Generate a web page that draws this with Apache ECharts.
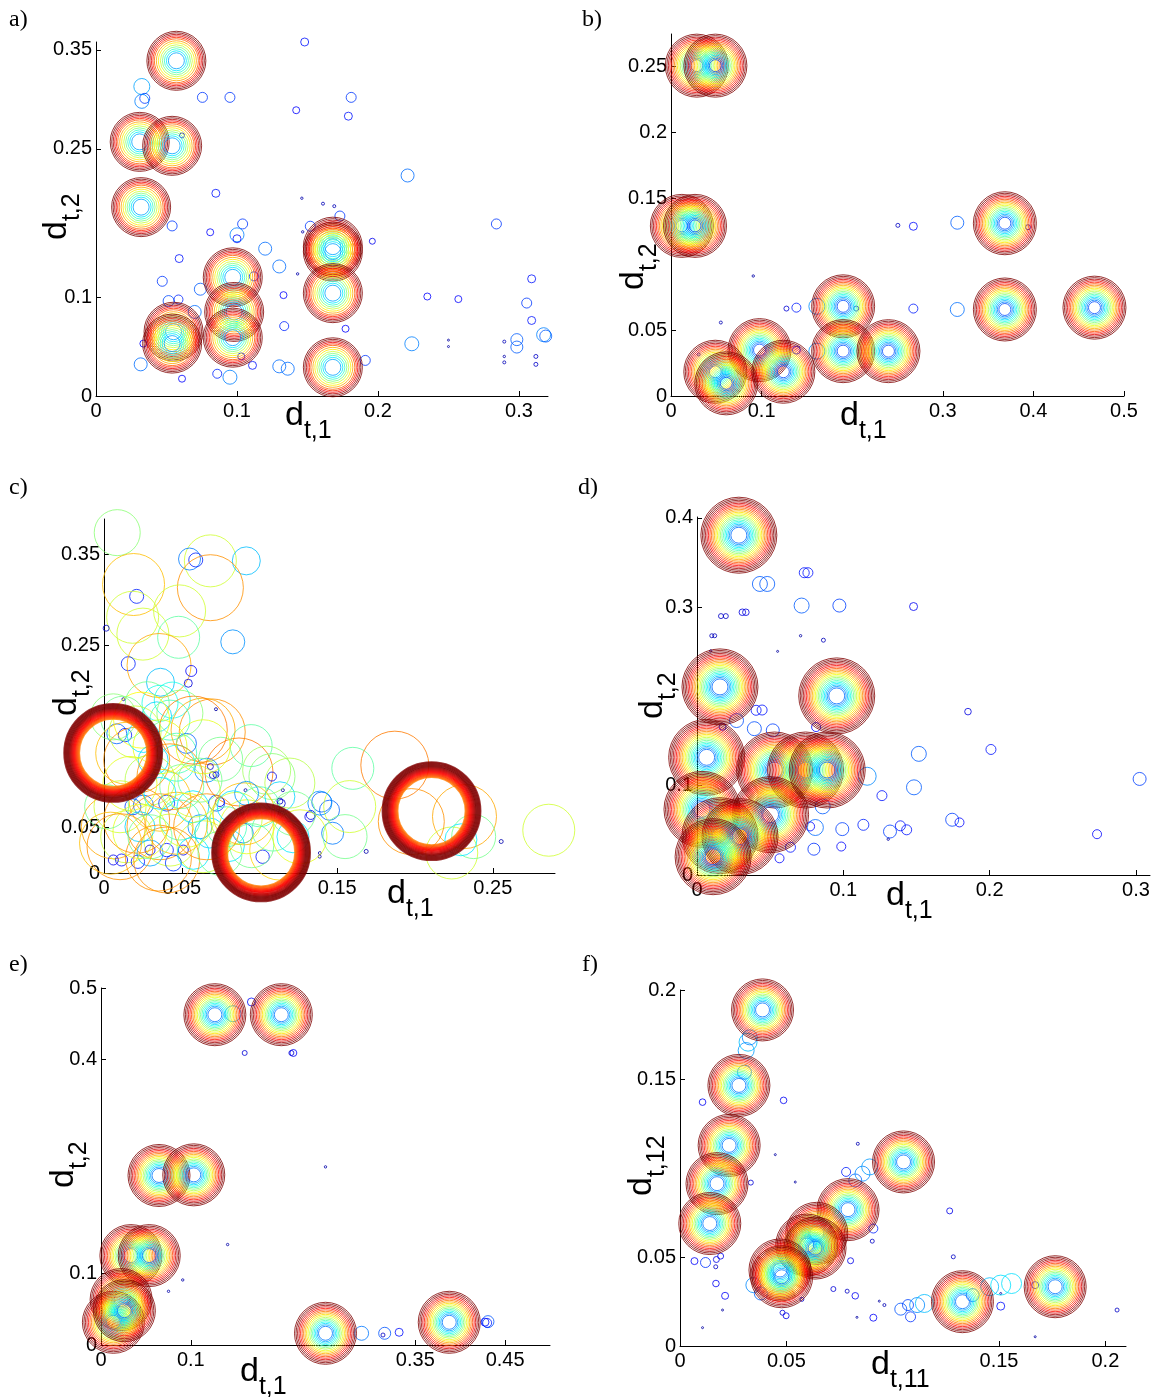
<!DOCTYPE html>
<html>
<head>
<meta charset="utf-8">
<script src="https://cdn.jsdelivr.net/npm/echarts@6.0.0/dist/echarts.min.js"></script>
<style>
  html, body { margin: 0; background: #fff; }
  #chart { width: 1153px; height: 1397px; }
</style>
</head>
<body>
<div id="chart"></div>
<script>
// ---- data: [d1, d2, radius(px)] for single circles, [d1, d2] for ring clusters ----
const ticksAx = [0, 0.1, 0.2, 0.3];
const ticksAy = [0, 0.1, 0.25, 0.35];
const pointsA = [
  [0.148,0.358,4],[0.0325,0.313,8],[0.0346,0.301,5],[0.0325,0.298,7],[0.0755,0.302,5],[0.095,0.302,5],
  [0.142,0.289,3.5],[0.181,0.302,5],[0.179,0.283,4],[0.061,0.2635,2.5],[0.221,0.223,6.5],[0.085,0.205,4],
  [0.146,0.2,1.2],[0.161,0.1945,1.5],[0.169,0.192,1.5],[0.284,0.174,5],[0.054,0.172,5],[0.081,0.1656,3.5],
  [0.104,0.174,5],[0.100,0.163,7],[0.100,0.159,4],[0.120,0.149,6.5],[0.196,0.1565,3],[0.059,0.139,4],
  [0.130,0.131,6.5],[0.143,0.1235,1.2],[0.047,0.116,5],[0.133,0.102,3.5],[0.235,0.1006,3.5],[0.257,0.098,3.5],
  [0.309,0.1185,4],[0.3055,0.094,5],[0.309,0.0764,4],[0.3175,0.062,7],[0.319,0.0606,6],[0.2985,0.057,6],
  [0.2985,0.0495,6],[0.2896,0.055,1.5],[0.2896,0.040,1.2],[0.2896,0.034,1.5],[0.312,0.040,2],[0.312,0.032,2],
  [0.25,0.0565,1],[0.25,0.050,1],[0.224,0.0528,7],[0.1335,0.0707,4.5],[0.177,0.068,3.5],[0.191,0.036,5],
  [0.130,0.030,6.5],[0.136,0.0276,6.5],[0.095,0.019,7],[0.086,0.0225,4.5],[0.111,0.031,4],[0.061,0.0175,3.5],
  [0.0317,0.032,6.5],[0.074,0.108,6],[0.0585,0.0976,4.5],[0.0515,0.096,5.5],[0.112,0.121,4.5],[0.152,0.1717,5],
  [0.173,0.182,5],[0.103,0.040,3.5],[0.070,0.085,6.5],[0.0336,0.053,3.5],[0.1466,0.166,1.2]
];
const clustersA = [
  [0.057,0.339],[0.031,0.257],[0.054,0.253],[0.032,0.191],[0.097,0.120],[0.098,0.085],[0.097,0.059],
  [0.055,0.065],[0.054,0.053],[0.168,0.151],[0.168,0.146],[0.168,0.104],[0.168,0.029]
];
const ringsA = [8, 10, 12, 14, 16, 18, 20, 22, 23.5, 25, 26.5, 28, 29.5];

const ticksBx = [0, 0.1, 0.3, 0.4, 0.5];
const ticksBy = [0, 0.05, 0.15, 0.2, 0.25];
const pointsB = [
  [0.2504,0.1294,2],[0.2675,0.1287,4],[0.316,0.1314,6.5],[0.394,0.128,2.5],[0.0908,0.091,1.2],[0.055,0.0557,1.5],
  [0.1274,0.0663,2.5],[0.1384,0.067,4.5],[0.2675,0.0663,4.5],[0.316,0.0656,7],[0.1384,0.0348,4],[0.0305,0.0315,1.5],
  [0.2044,0.0663,2.5],[0.161,0.068,8],[0.161,0.034,8]
];
const clustersB = [
  [0.0285,0.2505],[0.049,0.2505],[0.012,0.129],[0.0265,0.129],[0.3685,0.131],[0.190,0.068],[0.3685,0.0656],
  [0.4674,0.067],[0.190,0.034],[0.240,0.034],[0.0977,0.0348],[0.0489,0.0184],[0.061,0.0096],[0.124,0.0184]
];
const ringsB = [6, 7.5, 9, 10.5, 12, 13.5, 15, 16.5, 18, 19.5, 21, 22.5, 24, 25.5, 27, 28.5, 30, 31.5];

const ticksCx = [0, 0.05, 0.15, 0.25];
const ticksCy = [0, 0.05, 0.25, 0.35];
const pointsC = [
  [0.0085,0.374,23],[0.0684,0.343,26],[0.055,0.345,11],[0.059,0.344,7],[0.0915,0.343,14],[0.0684,0.3135,33],
  [0.019,0.317,31],[0.021,0.304,7],[0.0486,0.288,26],[0.0184,0.281,26],[0.025,0.2625,26],[0.048,0.259,21],
  [0.0828,0.254,12],[0.0014,0.269,3],[0.0156,0.230,7],[0.0354,0.228,32],[0.0561,0.222,5.5],[0.0542,0.2085,4],
  [0.0363,0.2096,14],[0.0278,0.186,22],[0.0439,0.19,18],[0.0125,0.191,1.5],[0.072,0.180,1.5],[0.0696,0.155,33],
  [0.0946,0.140,21],[0.0868,0.111,34],[0.108,0.106,23],[0.108,0.106,4.5],[0.160,0.115,21],[0.187,0.1185,34],
  [0.286,0.047,26],[0.2554,0.0346,2],[0.2318,0.062,32],[0.2236,0.022,26],[0.2377,0.040,22],[0.2295,0.0365,16],
  [0.1976,0.0565,33],[0.1686,0.0237,2],[0.1387,0.018,1.5],[0.147,0.0437,11],[0.140,0.078,10],[0.145,0.069,10],
  [0.133,0.0638,4.5],[0.155,0.040,22],[0.158,0.073,26],[0.114,0.0765,4],[0.115,0.091,1.5],[0.091,0.091,1.5],
  [0.0745,0.078,4.5],[0.072,0.108,3],[0.0684,0.117,3],
  [0.0082,0.153,10],[0.0135,0.1515,6.7],[0.0339,0.1716,15],[0.0424,0.168,20],[0.036,0.1865,18],[0.0242,0.168,28],
  [0.0146,0.1316,31],[0.0467,0.1316,20],[0.053,0.1424,10],[0.0637,0.157,32],[0.0316,0.124,15],[0.0467,0.1207,18],
  [0.0296,0.102,25],[0.036,0.080,31],[0.0103,0.0728,26],[0.0186,0.0728,8],[0.0253,0.0746,10],[0.0403,0.0768,8],
  [0.006,0.0508,32],[0.0146,0.0398,26],[0.0231,0.0508,15],[0.036,0.0508,33],[0.0424,0.0362,26],[0.0488,0.0582,20],
  [0.0572,0.0728,16],[0.0617,0.0508,12],[0.0637,0.0289,26],[0.0296,0.0219,13],[0.0113,0.0143,6],[0.006,0.0143,5],
  [0.0218,0.0124,6.7],[0.0296,0.0252,5],[0.0403,0.0252,6.7],[0.0446,0.011,8],[0.051,0.0252,5],[0.0724,0.0768,8],
  [0.068,0.0439,15],[0.0788,0.0508,20],[0.0895,0.0439,10],[0.102,0.0179,6.7],[0.113,0.0252,30],[0.1086,0.0472,21],
  [0.1215,0.0398,16],[0.1324,0.0618,5],[0.1388,0.0768,12],[0.1388,0.0219,1.5],[0.1131,0.0838,15],[0.1131,0.079,3],
  [0.1195,0.0988,25],[0.066,0.113,12],[0.070,0.1076,3.5],[0.0042,0.0328,31],[0.035,0.0164,33],[0.0467,0.0547,31],
  [0.0231,0.0456,27],[0.012,0.17,22],[0.02,0.155,26],[0.05,0.095,22],[0.058,0.09,26],[0.075,0.125,22],
  [0.085,0.06,26],[0.095,0.03,22],[0.08,0.03,16],[0.09,0.065,31],
  [0.0574,0.157,34],[0.021,0.124,33],[0.036,0.1387,27],[0.006,0.1716,23],[0.0488,0.1756,23],[0.0253,0.15,16],
  [0.0638,0.1387,27],[0.0424,0.1057,33],[0.0167,0.0984,27],[0.0617,0.102,22],[0.036,0.0875,16],[0.0017,0.0728,22],
  [0.021,0.058,33],[0.0531,0.058,27],[0.0296,0.0398,22],[0.0103,0.0289,33],[0.0574,0.0216,16],[0.0403,0.0143,33],
  [0.0746,0.0216,22],[0.0917,0.0508,27],[0.0831,0.0728,16],[0.1,0.0728,20],[0.1046,0.113,24],[0.1217,0.0654,22],
  [0.126,0.0398,27],[0.0917,0.0875,12],[0.066,0.0508,33]
];
const clustersC = [[0.0059,0.132],[0.101,0.0226],[0.2106,0.068]];
const ringsC = [34, 35, 36, 37, 38, 39, 40, 41, 42, 43, 44, 45, 46, 47, 48, 49];

const ticksDx = [0, 0.1, 0.2, 0.3];
const ticksDy = [0, 0.1, 0.3, 0.4];
const pointsD = [
  [0.0733,0.3386,5],[0.0758,0.3386,5],[0.043,0.326,7.5],[0.048,0.326,7.5],[0.0715,0.3018,7.5],[0.0973,0.3018,6.5],
  [0.148,0.3007,4],[0.0164,0.29,2.5],[0.0197,0.29,2.5],[0.031,0.2943,3.3],[0.0334,0.2943,3.3],[0.0101,0.268,2],
  [0.0121,0.268,2],[0.0708,0.268,1.2],[0.0864,0.263,2],[0.0551,0.2505,1],[0.0094,0.251,1.2],[0.1852,0.183,3.3],
  [0.0404,0.1845,5],[0.0392,0.1639,7],[0.0518,0.162,6.5],[0.0814,0.1657,4.5],[0.1516,0.1357,7.5],[0.2009,0.1406,5],
  [0.3025,0.1076,6.5],[0.1163,0.1106,9],[0.1483,0.0982,7.5],[0.1264,0.0889,5],[0.0859,0.0769,7.5],[0.0809,0.0532,8],
  [0.0773,0.0544,4.5],[0.0993,0.0514,6.5],[0.1137,0.0562,5.5],[0.1319,0.0487,6.5],[0.139,0.0551,5],[0.1433,0.0506,5],
  [0.1744,0.0619,6.5],[0.1794,0.0589,4.5],[0.2734,0.0457,4.5],[0.1307,0.0401,1.2],[0.0986,0.0319,4.5],[0.0799,0.0289,6],
  [0.0639,0.0311,5],[0.0564,0.0187,4.5],[0.027,0.173,7],[0.0175,0.166,3.5],[0.0445,0.1848,5]
];
const clustersD = [
  [0.0286,0.3806],[0.0157,0.2107],[0.0955,0.2006],[0.0066,0.1318],[0.053,0.1176],[0.0742,0.1176],[0.089,0.1176],
  [0.0034,0.0735],[0.0503,0.0676],[0.0157,0.044],[0.0294,0.043],[0.011,0.0205]
];
const ringsD = [8, 9.5, 11, 12.5, 14, 15.5, 17, 18.5, 20, 21.5, 23, 24.5, 26, 27.5, 29, 30.5, 32, 33.5, 35, 36.5, 38];

const ticksEx = [0, 0.1, 0.35, 0.45];
const ticksEy = [0, 0.1, 0.4, 0.5];
const pointsE = [
  [0.160,0.409,2.5],[0.2142,0.409,3.5],[0.212,0.409,2.5],[0.1675,0.4804,4],[0.25,0.2495,1.2],[0.141,0.1407,1.2],
  [0.091,0.0911,1.2],[0.0752,0.0752,1.2],[0.2902,0.0164,7],[0.3159,0.0164,6],[0.314,0.014,2],[0.332,0.0178,4],
  [0.4309,0.0327,6],[0.43,0.031,4.5],[0.4276,0.032,4],[0.147,0.464,8]
];
const clustersE = [
  [0.1268,0.4626],[0.2008,0.4626],[0.0646,0.2374],[0.1033,0.2383],[0.0333,0.1252],[0.0537,0.1252],
  [0.0224,0.0636],[0.0138,0.0318],[0.026,0.048],[0.25,0.0164],[0.3878,0.0318]
];
const ringsE = [7, 8.5, 10, 11.5, 13, 14.5, 16, 17.5, 19, 20.5, 22, 23.5, 25, 26.5, 28, 29.5, 31];

const ticksFx = [0, 0.05, 0.15, 0.2];
const ticksFy = [0, 0.05, 0.15, 0.2];
const pointsF = [
  [0.0106,0.137,3.3],[0.0487,0.138,3.3],[0.0836,0.1136,1.5],[0.0448,0.1075,1],[0.0542,0.0921,1],[0.0333,0.0918,2.5],
  [0.1268,0.0759,3],[0.0909,0.066,4.5],[0.0904,0.0589,2],[0.1285,0.0501,2],[0.0802,0.0479,3],[0.0068,0.0477,3.5],
  [0.012,0.0469,5],[0.0171,0.0486,3],[0.0168,0.0445,2],[0.0191,0.0505,3],[0.0169,0.0351,3.3],[0.0212,0.0282,3.5],
  [0.02,0.0202,1],[0.0106,0.0103,1],[0.0721,0.032,2.5],[0.0786,0.0308,2],[0.0824,0.0282,3.3],[0.0937,0.0252,1],
  [0.0961,0.023,1.5],[0.0832,0.0161,1],[0.0909,0.0159,3.5],[0.0482,0.0187,2.5],[0.0499,0.017,3],[0.0573,0.0262,2],
  [0.1508,0.0295,1],[0.1508,0.0224,4],[0.167,0.0052,1],[0.2055,0.0202,2],[0.167,0.0342,3.5],
  [0.1038,0.0207,6],[0.1084,0.0164,5],[0.1072,0.023,5.5],[0.1376,0.0286,6.5],
  [0.0311,0.166,8],[0.032,0.1707,9],[0.0328,0.1734,7.5],[0.0303,0.1538,7],
  [0.0824,0.093,6.5],[0.0858,0.0968,7.5],[0.0892,0.1006,8],[0.0781,0.0978,4.5],
  [0.1456,0.0333,9],[0.1508,0.0342,10],[0.1559,0.0351,10],[0.1115,0.023,7.5],[0.1149,0.0239,9],
  [0.0345,0.0342,7.5],[0.038,0.0295,6.5]
];
const clustersF = [
  [0.0388,0.1888],[0.0277,0.1464],[0.0231,0.1127],[0.0174,0.0912],[0.014,0.0688],[0.1051,0.1034],[0.079,0.0766],
  [0.0643,0.0633],[0.0596,0.0567],[0.0635,0.055],[0.047,0.0427],[0.0478,0.0389],[0.1328,0.0249],[0.1764,0.0333]
];
const ringsF = [7, 8.5, 10, 11.5, 13, 14.5, 16, 17.5, 19, 20.5, 22, 23.5, 25, 26.5, 28, 29.5, 31];

// ---- layout ----
const panels = [
  { tag: 'a)', tagXY: [9, 8], grid: [96, 42, 452, 354], xMax: 0.3206, yMax: 0.358,
    xTicks: ticksAx, yTicks: ticksAy, points: pointsA, clusters: clustersA, rings: ringsA, norm: 28, ringWidth: 1,
    xSub: 't,1', ySub: 't,2', xName: [285, 399], yName: [40, 240] },
  { tag: 'b)', tagXY: [582, 8], grid: [671, 34, 453, 362], xMax: 0.5, yMax: 0.2745,
    xTicks: ticksBx, yTicks: ticksBy, points: pointsB, clusters: clustersB, rings: ringsB, norm: 30, ringWidth: 1,
    xSub: 't,1', ySub: 't,2', xName: [840, 399], yName: [617, 290] },
  { tag: 'c)', tagXY: [9, 476], grid: [104, 519, 451, 354], xMax: 0.29, yMax: 0.389,
    xTicks: ticksCx, yTicks: ticksCy, points: pointsC, clusters: clustersC, rings: ringsC, norm: 45, ringWidth: 1.8,
    xSub: 't,1', ySub: 't,2', xName: [387, 877], yName: [50, 716] },
  { tag: 'd)', tagXY: [578, 476], grid: [697, 517, 453, 358], xMax: 0.3096, yMax: 0.401,
    xTicks: ticksDx, yTicks: ticksDy, points: pointsD, clusters: clustersD, rings: ringsD, norm: 35, ringWidth: 1,
    xSub: 't,1', ySub: 't,2', xName: [886, 879], yName: [636, 719] },
  { tag: 'e)', tagXY: [9, 953], grid: [101, 988, 449, 357], xMax: 0.5, yMax: 0.5,
    xTicks: ticksEx, yTicks: ticksEy, points: pointsE, clusters: clustersE, rings: ringsE, norm: 29, ringWidth: 1,
    xSub: 't,1', ySub: 't,2', xName: [240, 1355], yName: [47, 1188] },
  { tag: 'f)', tagXY: [582, 953], grid: [680, 990, 446, 356], xMax: 0.2097, yMax: 0.2,
    xTicks: ticksFx, yTicks: ticksFy, points: pointsF, clusters: clustersF, rings: ringsF, norm: 29, ringWidth: 1,
    xSub: 't,11', ySub: 't,12', xName: [871, 1348], yName: [625, 1196] }
];

function jet(t) {
  t = Math.max(0, Math.min(1, t));
  const f = v => Math.round(255 * Math.max(0, Math.min(1, 1.5 - Math.abs(v))));
  return 'rgb(' + f(4 * t - 3) + ',' + f(4 * t - 2) + ',' + f(4 * t - 1) + ')';
}

function circle(x, y, r, norm, width) {
  return {
    value: [x, y, r],
    symbolSize: 2 * r,
    itemStyle: { borderColor: jet(r / norm), borderWidth: width }
  };
}

const font = 'Liberation Sans, Arial, sans-serif';
const grids = [], xAxes = [], yAxes = [], series = [], graphics = [];

// label with a subscript: big "d" on top, the subscript dropped below its baseline
const rich = {
  d: { fontSize: 34, fontFamily: font, fill: '#000', verticalAlign: 'top', lineHeight: 30 },
  s: { fontSize: 25, fontFamily: font, fill: '#000', verticalAlign: 'bottom', lineHeight: 45 }
};

panels.forEach((p, i) => {
  grids.push({ left: p.grid[0], top: p.grid[1], width: p.grid[2], height: p.grid[3], containLabel: false });
  const axisCommon = {
    type: 'value', gridIndex: i, min: 0,
    axisLine: { show: true, onZero: false, lineStyle: { color: '#000', width: 1 } },
    splitLine: { show: false },
    axisLabel: { color: '#000', fontSize: 20, fontFamily: font, formatter: v => String(v) }
  };
  xAxes.push(Object.assign({}, axisCommon, {
    max: p.xMax,
    axisTick: { show: true, inside: true, length: 5, lineStyle: { color: '#000' }, customValues: p.xTicks },
    axisLabel: Object.assign({}, axisCommon.axisLabel, { customValues: p.xTicks, margin: 5 })
  }));
  yAxes.push(Object.assign({}, axisCommon, {
    max: p.yMax,
    axisTick: { show: true, inside: true, length: 5, lineStyle: { color: '#000' }, customValues: p.yTicks },
    axisLabel: Object.assign({}, axisCommon.axisLabel, { customValues: p.yTicks, margin: 4 })
  }));

  const data = p.points.map(d => circle(d[0], d[1], d[2], p.norm, 1));
  p.clusters.forEach(c => {
    p.rings.forEach(r => data.push(circle(c[0], c[1], r, p.norm, p.ringWidth)));
  });
  series.push({
    type: 'scatter', xAxisIndex: i, yAxisIndex: i,
    symbol: 'circle', large: false, silent: true, clip: false,
    itemStyle: { color: 'rgba(0,0,0,0)', borderWidth: 1 },
    data: data
  });

  graphics.push({
    type: 'text', x: p.tagXY[0], y: p.tagXY[1],
    style: { text: p.tag, fontSize: 24, fontFamily: 'Liberation Serif, Times New Roman, serif', fill: '#000' }
  });
  graphics.push({
    type: 'text', x: p.xName[0], y: p.xName[1],
    style: { text: '{d|d}{s|' + p.xSub + '}', rich: rich, verticalAlign: 'top' }
  });
  graphics.push({
    type: 'text', x: p.yName[0], y: p.yName[1], rotation: Math.PI / 2,
    style: { text: '{d|d}{s|' + p.ySub + '}', rich: rich, verticalAlign: 'top' }
  });
});

const chart = echarts.init(document.getElementById('chart'), null, { renderer: 'canvas' });
chart.setOption({
  animation: false,
  backgroundColor: '#fff',
  grid: grids,
  xAxis: xAxes,
  yAxis: yAxes,
  series: series,
  graphic: graphics
});
</script>
</body>
</html>
